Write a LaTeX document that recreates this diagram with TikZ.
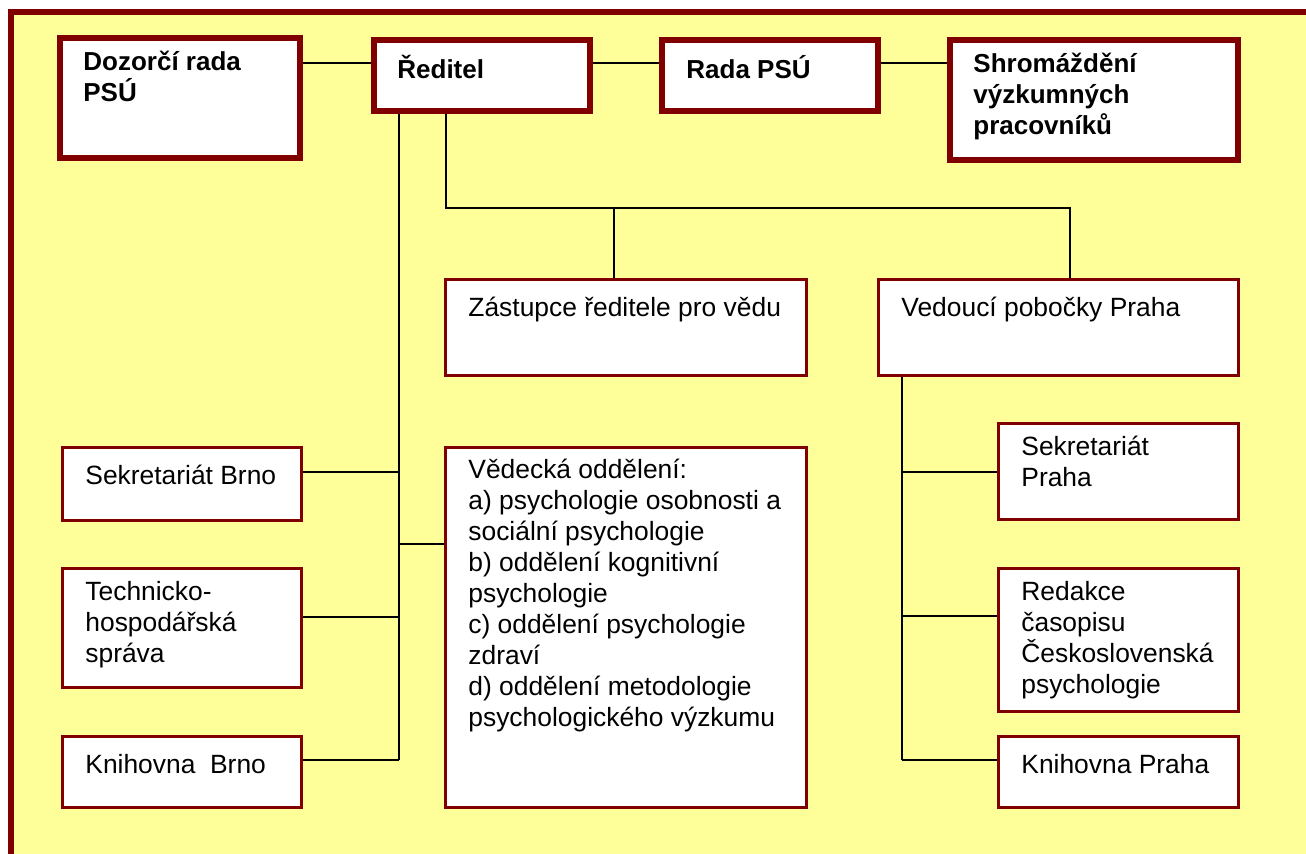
\documentclass[tikz,border=0pt]{standalone}
\usepackage{fontspec}
\setmainfont{Liberation Sans}
\usepackage{tikz}
\definecolor{psured}{rgb}{0.5,0.0,0.0}
\definecolor{psuyellow}{rgb}{1.0,1.0,0.6}

\begin{document}
\begin{tikzpicture}[x=0.5pt,y=-0.5pt,
  every node/.style={inner sep=0pt},
  topbox/.style={rectangle,draw=psured,line width=3pt,fill=white},
  unitbox/.style={rectangle,draw=psured,line width=1.5pt,fill=white},
  boxtext/.style={anchor=north west,align=left,font=\fontsize{13.2}{15.5}\selectfont,
    execute at begin node=\rule{0pt}{12pt}},
  toptext/.style={boxtext,font=\fontsize{13}{15.5}\selectfont\bfseries},
  link/.style={draw=black,line width=1pt}]

  \useasboundingbox (0,0) rectangle (1306,854);
  \clip (0,0) rectangle (1306,854);
  \fill[white] (0,0) rectangle (1306,854);
  \draw[draw=psured,line width=3pt,fill=psuyellow] (11,12.5) rectangle (1340,890);

  % top row
  \node[topbox,minimum width=120pt,minimum height=60pt] (dozor) at (180,98) {};
  \node[topbox,minimum width=108pt,minimum height=35.5pt] (reditel) at (482,75.5) {};
  \node[topbox,minimum width=108pt,minimum height=35.5pt] (rada) at (770,75.5) {};
  \node[topbox,minimum width=144pt,minimum height=60pt] (shrom) at (1094,100) {};

  % units
  \node[unitbox,minimum width=180.5pt,minimum height=48pt] (zast) at (626,327.5) {};
  \node[unitbox,minimum width=180pt,minimum height=48pt] (vedouci) at (1058.5,327.5) {};
  \node[unitbox,minimum width=119.5pt,minimum height=36.5pt] (sekbrno) at (182,484) {};
  \node[unitbox,minimum width=119.5pt,minimum height=59.5pt] (tech) at (182,628) {};
  \node[unitbox,minimum width=119.5pt,minimum height=35.5pt] (knihbrno) at (182,772) {};
  \node[unitbox,minimum width=180.5pt,minimum height=180pt] (vedecka) at (626,627.5) {};
  \node[unitbox,minimum width=120pt,minimum height=48pt] (sekpraha) at (1118.5,471.5) {};
  \node[unitbox,minimum width=120pt,minimum height=71.5pt] (redakce) at (1118.5,640) {};
  \node[unitbox,minimum width=120pt,minimum height=35.5pt] (knihpraha) at (1118.5,772) {};

  % texts
  \node[toptext] (dozort) at ([xshift=13pt,yshift=-8pt]dozor.north west) {Dozorčí rada\\PSÚ};
  \node[toptext] (reditelt) at ([xshift=13pt,yshift=-8.5pt]reditel.north west) {Ředitel};
  \node[toptext] (radat) at ([xshift=13.5pt,yshift=-8.5pt]rada.north west) {Rada PSÚ};
  \node[toptext] (shromt) at ([xshift=13pt,yshift=-8pt]shrom.north west) {Shromáždění\\výzkumných\\pracovníků};
  \node[boxtext] (zastt) at ([xshift=12pt,yshift=-7pt]zast.north west) {Zástupce ředitele pro vědu};
  \node[boxtext] (vedoucit) at ([xshift=12pt,yshift=-7pt]vedouci.north west) {Vedoucí pobočky Praha};
  \node[boxtext] (sekbrnot) at ([xshift=12pt,yshift=-7pt]sekbrno.north west) {Sekretariát Brno};
  \node[boxtext] (techt) at ([xshift=12pt,yshift=-7pt]tech.north west) {Technicko-\\hospodářská\\správa};
  \node[boxtext] (knihbrnot) at ([xshift=12pt,yshift=-7pt]knihbrno.north west) {Knihovna\ \ Brno};
  \node[boxtext] (vedeckat) at ([xshift=12pt,yshift=-6.5pt]vedecka.north west) {Vědecká oddělení:\\a) psychologie osobnosti a\\sociální psychologie\\b) oddělení kognitivní\\psychologie\\c) oddělení psychologie\\zdraví\\d) oddělení metodologie\\psychologického výzkumu};
  \node[boxtext] (sekprahat) at ([xshift=12pt,yshift=-7pt]sekpraha.north west) {Sekretariát\\Praha};
  \node[boxtext] (redakcet) at ([xshift=12pt,yshift=-7pt]redakce.north west) {Redakce\\časopisu\\Československá\\psychologie};
  \node[boxtext] (knihprahat) at ([xshift=12pt,yshift=-7pt]knihpraha.north west) {Knihovna Praha};

  % connectors
  \coordinate (topline) at (0,63);
  \foreach \from/\to in {dozor/reditel,reditel/rada,rada/shrom}
    \draw[link] (\from.east |- topline) -- (\to.west |- topline);

  \coordinate (bus) at (446,208);
  \coordinate (busend) at (1070,208);
  \coordinate (zdrop) at (614,208);
  \draw[link] (reditel.south -| bus) -- (bus) -- (busend) -- (vedouci.north -| busend);
  \draw[link] (zdrop) -- (zast.north -| zdrop);

  \coordinate (lspine) at (399,760);
  \draw[link] (reditel.south -| lspine) -- (lspine);
  \foreach \unit/\y in {sekbrno/472,tech/617,knihbrno/760}
    \draw[link] (\unit.east |- 0,\y) -- (lspine |- 0,\y);
  \draw[link] (lspine |- 0,544) -- (vedecka.west |- 0,544);

  \coordinate (rspine) at (902,760);
  \draw[link] (vedouci.south -| rspine) -- (rspine);
  \foreach \unit/\y in {sekpraha/472,redakce/616,knihpraha/760}
    \draw[link] (rspine |- 0,\y) -- (\unit.west |- 0,\y);
\end{tikzpicture}
\end{document}
